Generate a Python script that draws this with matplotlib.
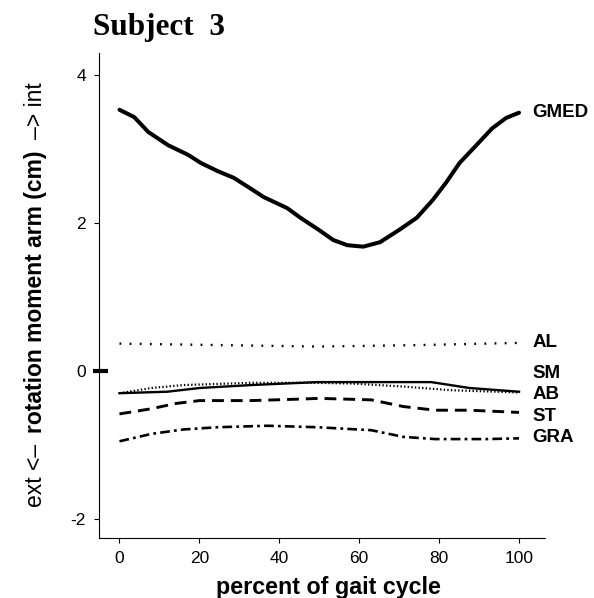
import matplotlib
matplotlib.use("Agg")
import matplotlib.pyplot as plt
import matplotlib.transforms as mtransforms

plt.rcParams['font.family'] = ['Liberation Sans', 'DejaVu Sans']
plt.rcParams['lines.scale_dashes'] = False
plt.rcParams['axes.unicode_minus'] = False

# moment arm data (percent of gait cycle, cm)
gmed_x = [0, 3.7, 7.2, 12.2, 17.2, 20.4, 24.6, 28.6, 32.1, 36.1, 42.0, 45.3, 49.8,
          53.5, 57, 61, 65.2, 70.1, 74.4, 78.4, 81.8, 85.1, 89.3, 93.3, 96.8, 100]
gmed_y = [3.53, 3.43, 3.23, 3.05, 2.92, 2.81, 2.70, 2.61, 2.49, 2.35, 2.20, 2.07, 1.91,
          1.77, 1.70, 1.68, 1.74, 1.91, 2.07, 2.31, 2.55, 2.81, 3.05, 3.28, 3.42, 3.49]

al_x = [0, 25, 50, 75, 100]
al_y = [0.37, 0.35, 0.33, 0.35, 0.38]

sm_x = [0, 12, 20, 33, 49.5, 58.5, 78, 87.6, 100]
sm_y = [-0.30, -0.28, -0.23, -0.19, -0.15, -0.15, -0.15, -0.23, -0.28]

ab_x = [0, 8, 16, 33, 49.5, 58.5, 71, 83, 100]
ab_y = [-0.30, -0.23, -0.19, -0.16, -0.16, -0.17, -0.21, -0.26, -0.29]

st_x = [0, 8, 14, 20, 33, 45, 50, 63, 71, 79, 87.6, 100]
st_y = [-0.58, -0.51, -0.44, -0.40, -0.40, -0.38, -0.37, -0.39, -0.48, -0.53, -0.53, -0.56]

gra_x = [0, 8, 16, 24.6, 37, 49.5, 63, 71, 79, 92, 100]
gra_y = [-0.95, -0.85, -0.79, -0.76, -0.74, -0.76, -0.80, -0.89, -0.92, -0.92, -0.91]

names = ['GMED', 'AL', 'SM', 'AB', 'ST', 'GRA']
label_y = [3.49, 0.38, -0.04, -0.32, -0.615, -0.905]

W, H = 594, 598
fig = plt.figure(figsize=(W / 100, H / 100), dpi=100)
ax = fig.add_axes([98.5 / W, 0.1003, 446.5 / W, 0.8111])

ax.plot(gmed_x, gmed_y, color='black', lw=2.9, solid_capstyle='round')
ax.plot(al_x, al_y, color='black', lw=1.7, linestyle=(0, (1.3, 6.0)))
ax.plot(sm_x, sm_y, color='black', lw=1.7)
ax.plot(ab_x, ab_y, color='black', lw=1.6, linestyle=(0, (1.0, 1.6)))
ax.plot(st_x, st_y, color='black', lw=2.1, linestyle=(0, (8.5, 5.0)))
ax.plot(gra_x, gra_y, color='black', lw=1.9, linestyle=(0, (7.0, 3.0, 2.0, 3.0)))

for name, yv in zip(names, label_y):
    ax.text(103.4, yv, name, fontsize=13.5, fontweight='bold', va='center', ha='left',
            clip_on=False)

ax.set_xlim(-5.25, 106.5)
ax.set_ylim(-2.257, 4.297)
ax.set_xticks([0, 20, 40, 60, 80, 100])
ax.set_yticks([-2, 0, 2, 4])
ax.spines['top'].set_visible(False)
ax.spines['right'].set_visible(False)
ax.tick_params(labelsize=12.5, length=3.6, width=0.8, pad=5.5)

# thick mark at zero
trans = mtransforms.blended_transform_factory(ax.transAxes, ax.transData)
ax.plot([-0.012, 0.021], [0, 0], color='black', lw=3.0, transform=trans,
        clip_on=False, solid_capstyle='butt')

r = fig.canvas.get_renderer()


def fit(t, target, vertical=False):
    bb = t.get_window_extent(r)
    size = bb.height if vertical else bb.width
    t.set_fontsize(t.get_fontsize() * target / size)


def fy(py):
    return (H - py) / H


title = fig.text(93 / W, fy(28), 'Subject  3', fontsize=20, fontweight='bold',
                 family='Liberation Serif', ha='left', va='center')
fit(title, 132)

xlab = fig.text(328 / W, fy(594), 'percent of gait cycle', fontsize=15,
                fontweight='bold', ha='center', va='baseline')
fit(xlab, 226)

# y label in three parts
xl = 36 / W
mid = fig.text(xl, fy(433), 'rotation moment arm (cm)', fontsize=15, fontweight='bold',
               rotation=90, ha='center', va='bottom')
fit(mid, 285, vertical=True)
fs = mid.get_fontsize()
fig.text(xl, fy(444), 'ext <\u2013', fontsize=fs, rotation=90, ha='center', va='top')
fig.text(xl, fy(139), '\u2013> int', fontsize=fs, rotation=90, ha='center', va='bottom')

fig.savefig('out.png', dpi=100)
